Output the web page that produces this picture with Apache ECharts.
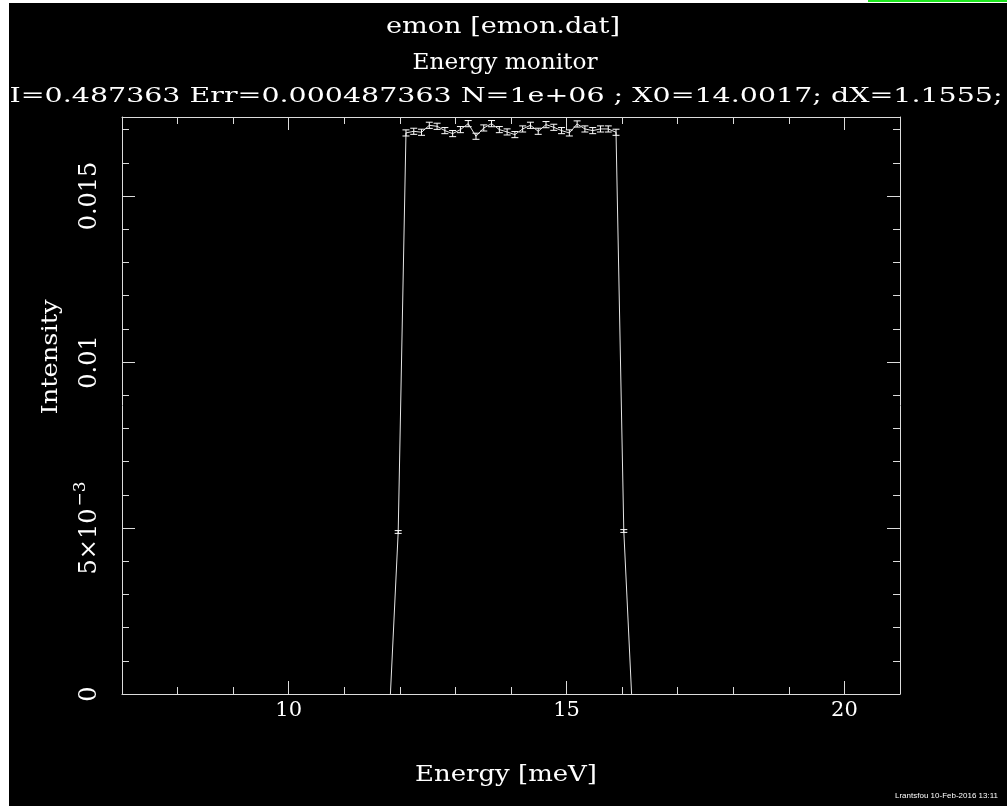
<!DOCTYPE html>
<html>
<head>
<meta charset="utf-8">
<title>emon [emon.dat]</title>
<script src="https://cdn.jsdelivr.net/npm/echarts@6/dist/echarts.min.js"></script>
<style>
  html, body { margin: 0; padding: 0; background: #fff; width: 1007px; height: 806px; overflow: hidden; }
  #panel { position: absolute; left: 9px; top: 3px; right: 0; bottom: 0; background: #000; }
  #strip { position: absolute; left: 868px; top: 0; width: 139px; height: 2px; background: #1ee61e; }
  #chart { position: absolute; left: 0; top: 0; width: 1007px; height: 806px; }
</style>
</head>
<body>
<div id="panel"></div>
<div id="strip"></div>
<div id="chart"></div>
<script>
// Energy monitor histogram: bin centres [meV], intensity per bin and its error
const energy = [
  11.83, 11.97, 12.11, 12.25, 12.39, 12.53, 12.67, 12.81, 12.95, 13.09,
  13.23, 13.37, 13.51, 13.65, 13.79, 13.93, 14.07, 14.21, 14.35, 14.49,
  14.63, 14.77, 14.91, 15.05, 15.19, 15.33, 15.47, 15.61, 15.75, 15.89,
  16.03, 16.17
];
const intensity = [
  0, 0.00488,
  0.01690, 0.01695, 0.01692, 0.01713, 0.01710, 0.01697, 0.01688, 0.01700,
  0.01718, 0.01680, 0.01705, 0.01718, 0.01700, 0.01693, 0.01685, 0.01702,
  0.01713, 0.01695, 0.01715, 0.01707, 0.01697, 0.01690, 0.01717, 0.01702,
  0.01697, 0.01702, 0.01702, 0.01692,
  0.00491, 0
];
const intensityErr = [
  0, 0.000042,
  0.000092, 0.000092, 0.000092, 0.000093, 0.000093, 0.000092, 0.000092, 0.000092,
  0.000093, 0.000092, 0.000092, 0.000093, 0.000092, 0.000092, 0.000092, 0.000092,
  0.000093, 0.000092, 0.000093, 0.000092, 0.000092, 0.000092, 0.000093, 0.000092,
  0.000092, 0.000092, 0.000092, 0.000092,
  0.000042, 0
];

// Axis ranges and labelled ticks
const xRange = [7, 21];
const yRange = [0, 0.01738];
const xMajorTicks = [10, 15, 20];
const xTickLabels = ['10', '15', '20'];
const yMajorTicks = [0, 0.005, 0.01, 0.015];
const yTickLabels = ['{n|0}', '{n|5×10}{s|−3}', '{n|0.01}', '{n|0.015}'];

// Header and axis texts
const titleText = 'emon [emon.dat]';
const subtitleText = 'Energy monitor';
const statsText = 'I=0.487363 Err=0.000487363 N=1e+06 ; X0=14.0017; dX=1.1555;';
const xName = 'Energy [meV]';
const yName = 'Intensity';
const footerText = 'Lrantsfou 10-Feb-2016 13:11';

const FG = '#ffffff';
const LINE = '#e6e6e6';
const FRAME = '#dcdcdc';
const SERIF = '"DejaVu Serif", "Liberation Serif", serif';

const measureCtx = document.createElement('canvas').getContext('2d');
// Text stretched horizontally to a given span (the plotting font is wide and thin)
function wideText(text, size, cx, cy, span, rotation) {
  measureCtx.font = size + 'px ' + SERIF;
  const w = measureCtx.measureText(text).width;
  return {
    type: 'text', x: cx, y: cy, rotation: rotation || 0,
    scaleX: span / w, silent: true,
    style: { text: text, font: size + 'px ' + SERIF, fill: FG, align: 'center', verticalAlign: 'middle' }
  };
}

const chart = echarts.init(document.getElementById('chart'), null, { renderer: 'canvas' });

const grid = { left: 122, right: 107, top: 117, bottom: 112, containLabel: false };

function xAxisDef(position, major, withLabels) {
  return {
    type: 'value', position: position, min: xRange[0], max: xRange[1],
    interval: 1,
    axisLine: { show: !major, onZero: false, lineStyle: { color: FRAME, width: 1 } },
    axisTick: major
      ? { show: true, inside: true, length: 13, customValues: xMajorTicks, lineStyle: { color: FRAME } }
      : { show: true, inside: true, length: 7, lineStyle: { color: FRAME } },
    axisLabel: withLabels
      ? { show: true, customValues: xMajorTicks, margin: 6, color: FG, fontFamily: SERIF, fontSize: 21,
          formatter: v => xTickLabels[xMajorTicks.indexOf(v)] }
      : { show: false },
    splitLine: { show: false }
  };
}

function yAxisDef(position, major, withLabels) {
  return {
    type: 'value', position: position, min: yRange[0], max: yRange[1],
    interval: 0.001,
    axisLine: { show: !major, onZero: false, lineStyle: { color: FRAME, width: 1 } },
    axisTick: major
      ? { show: true, inside: true, length: 13, customValues: yMajorTicks.slice(1), lineStyle: { color: FRAME } }
      : { show: true, inside: true, length: 7, lineStyle: { color: FRAME } },
    axisLabel: withLabels
      ? { show: true, customValues: yMajorTicks, rotate: 90, margin: 20, color: FG,
          formatter: v => {
            let idx = yMajorTicks.findIndex(t => Math.abs(t - v) < 1e-9);
            return idx < 0 ? '' : yTickLabels[idx];
          },
          rich: {
            n: { fontFamily: SERIF, fontSize: 24, color: FG, lineHeight: 30, verticalAlign: 'bottom' },
            s: { fontFamily: SERIF, fontSize: 17, color: FG, lineHeight: 30, verticalAlign: 'top', padding: [0, 0, 0, 2] }
          } }
      : { show: false },
    splitLine: { show: false }
  };
}

const option = {
  backgroundColor: 'transparent',
  animation: false,
  grid: grid,
  xAxis: [
    xAxisDef('bottom', false, true),
    xAxisDef('bottom', true, false),
    xAxisDef('top', false, false),
    xAxisDef('top', true, false)
  ],
  yAxis: [
    yAxisDef('left', false, true),
    yAxisDef('left', true, false),
    yAxisDef('right', false, false),
    yAxisDef('right', true, false)
  ],
  series: [
    {
      type: 'line', xAxisIndex: 0, yAxisIndex: 0,
      data: energy.map((e, i) => [e, intensity[i]]),
      symbol: 'none', lineStyle: { color: LINE, width: 1 }, z: 3
    },
    {
      // error bars with wide caps
      type: 'custom', xAxisIndex: 0, yAxisIndex: 0, z: 4,
      data: energy.map((e, i) => [e, intensity[i], intensityErr[i]]).filter(d => d[1] > 0),
      renderItem: function (params, api) {
        const x = api.value(0), y = api.value(1), err = api.value(2);
        const t = api.coord([x, y + err]);
        const b = api.coord([x, y - err]);
        const cap = 3.5;
        const st = { stroke: FG, lineWidth: 1 };
        return {
          type: 'group',
          children: [
            { type: 'line', shape: { x1: t[0], y1: t[1], x2: b[0], y2: b[1] }, style: st },
            { type: 'line', shape: { x1: t[0] - cap, y1: t[1], x2: t[0] + cap, y2: t[1] }, style: st },
            { type: 'line', shape: { x1: b[0] - cap, y1: b[1], x2: b[0] + cap, y2: b[1] }, style: st }
          ]
        };
      }
    }
  ],
  graphic: [
    wideText(titleText, 22, 503, 27, 234),
    wideText(subtitleText, 22, 505, 63, 185),
    wideText(statsText, 20, 506, 97, 993),
    wideText(xName, 22, 506, 775, 182),
    wideText(yName, 22, 51, 357, 115, Math.PI / 2),
    {
      type: 'text', x: 895, y: 796, silent: true,
      style: { text: footerText, font: '8px "Liberation Sans", "DejaVu Sans", sans-serif', fill: FG, align: 'left', verticalAlign: 'middle' }
    }
  ]
};

chart.setOption(option);
</script>
</body>
</html>
